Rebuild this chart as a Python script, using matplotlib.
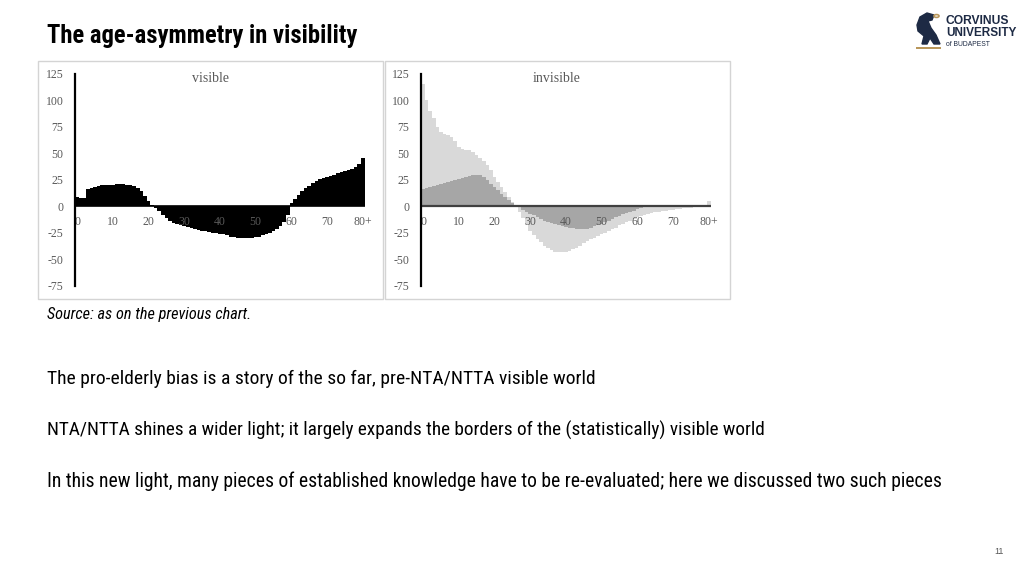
import matplotlib
matplotlib.use('Agg')
import matplotlib.pyplot as plt
import numpy as np
from matplotlib import font_manager
from matplotlib.patches import Rectangle, Polygon, Circle

# ---------------- data ----------------
ages = list(range(81))
x_tick_pos = [0, 10, 20, 30, 40, 50, 60, 70, 80]
x_tick_labels = ['0', '10', '20', '30', '40', '50', '60', '70', '80+']
y_ticks = [125, 100, 75, 50, 25, 0, -25, -50, -75]

visible = [8.5, 8, 7.5, 16.5, 17.5, 18.5, 19.5, 20, 20, 20,
           20.5, 21, 21, 21, 20.5, 20.5, 19.5, 17.5, 14, 9.5,
           5, 1.5, -1.5, -4.5, -8, -11, -13.5, -15.5, -17, -18,
           -19, -19.5, -20, -21, -22, -23, -23.5, -24, -25, -25.5,
           -26, -26.5, -27.5, -28.5, -29, -29.5, -30, -30, -30, -29.5,
           -29, -28.5, -27.5, -26.5, -25, -23.5, -21.5, -19, -15, -8,
           3, 7, 11, 14, 17, 19.5, 22, 24, 26, 27,
           28, 29, 30, 31, 32, 33, 34, 35.5, 37, 40,
           46]

invisible_total = [115, 100, 90, 83, 75, 70, 68, 67, 65, 62,
                   56, 54, 53, 53, 51, 48, 46, 43, 39, 34,
                   28, 23, 18, 13.5, 9, 4, 0.5, -5, -11, -17,
                   -23, -27, -31, -34, -37, -39.5, -41.5, -43, -43.5, -43.5,
                   -43, -42, -40.5, -39, -37, -35, -33, -31, -29.5, -28,
                   -26.5, -25, -23, -21.5, -20, -18, -16.5, -15, -13.5, -12,
                   -10.5, -9, -8, -7, -6.3, -5.7, -5.2, -4.7, -4.3, -3.9,
                   -3.5, -3, -2.5, -2, -1.6, -1.2, -0.8, -0.5, -0.2, 0.5,
                   5]

invisible_part = [16.7, 17.5, 18.3, 19, 20, 21, 22, 23, 24, 25,
                  26, 27, 28, 29, 29.5, 30, 29.5, 27.5, 24.5, 21.4,
                  18, 15, 12, 9, 5.7, 3, 1, -1, -3.5, -5.5,
                  -7, -8.5, -10, -12, -13.5, -15, -16, -17, -18, -19,
                  -19.5, -20, -20.5, -21, -21.4, -21.4, -21, -20, -19, -17.5,
                  -16.5, -15, -13.5, -12, -10.5, -9, -7.5, -6, -5, -4,
                  -3, -2, -1, 0, 0.8, 1.3, 1.5, 1.6, 1.6, 1.6,
                  1.5, 1.3, 1, 0.6, 0.3, 0.1, 0, 0, 0, 0,
                  0]

title = 'The age-asymmetry in visibility'
source = 'Source: as on the previous chart.'
body_lines = [
    'The pro-elderly bias is a story of the so far, pre-NTA/NTTA visible world',
    'NTA/NTTA shines a wider light; it largely expands the borders of the (statistically) visible world',
    'In this new light, many pieces of established knowledge have to be re-evaluated; here we discussed two such pieces',
]

# ---------------- figure ----------------
W, H = 1024, 576
fig = plt.figure(figsize=(W / 100, H / 100), dpi=100)
fig.patch.set_facecolor('white')

names = {f.name for f in font_manager.fontManager.ttflist}
sans = 'Liberation Sans'
for cand in ['Liberation Sans Narrow', 'Arial Narrow', 'Roboto Condensed',
             'Open Sans Condensed', 'Noto Sans Condensed']:
    if cand in names:
        sans = cand
        break
serif = 'Liberation Serif'
GRAY = '#595959'


def fx(px):
    return px / W


def fy(py):
    return 1 - py / H


renderer = fig.canvas.get_renderer()


def fit_text(x, y, s, width, size=12, family=None, ha='left', **kw):
    t = fig.text(fx(x), fy(y), s, fontsize=size, va='center', ha=ha,
                 family=family or sans, **kw)
    w = t.get_window_extent(renderer).width
    t.set_fontsize(size * width / w)
    return t


# chart boxes
for x0, x1 in [(38, 383), (385, 730)]:
    fig.add_artist(Rectangle((fx(x0), fy(299)), (x1 - x0) / W, (299 - 61) / H,
                             transform=fig.transFigure, fill=False,
                             edgecolor='#d4d4d4', lw=1))


def make_ax(left_px):
    ax = fig.add_axes([fx(left_px), fy(285.8), 289.2 / W, 212 / H])
    ax.set_xlim(-0.5, 80.5)
    ax.set_ylim(-75, 125)
    ax.patch.set_alpha(0)
    for s in ['top', 'right', 'bottom']:
        ax.spines[s].set_visible(False)
    ax.spines['left'].set_linewidth(1.6)
    ax.spines['left'].set_color('black')
    ax.spines['left'].set_zorder(6)
    ax.set_yticks(y_ticks)
    ax.set_yticklabels([str(v) for v in y_ticks])
    ax.tick_params(axis='y', length=0, pad=8.5, labelsize=8.5, labelcolor=GRAY)
    for lab in ax.get_yticklabels():
        lab.set_family(serif)
    ax.set_xticks([])
    for p, l in zip(x_tick_pos, x_tick_labels):
        ax.annotate(l, xy=(p, 0), xytext=(0, -16), textcoords='offset pixels',
                    ha='center', va='center', fontsize=8.5, color=GRAY,
                    family=serif, zorder=4)
    return ax


edges = np.arange(len(ages) + 1) - 0.5

ax1 = make_ax(75.3)
ax1.stairs(visible, edges, baseline=0, fill=True, color='black', zorder=2)
ax1.axhline(0, color='black', lw=1.2, zorder=3)

ax2 = make_ax(421.3)
ax2.stairs(invisible_total, edges, baseline=0, fill=True, color='#d9d9d9', zorder=2)
ax2.stairs(invisible_part, edges, baseline=0, fill=True, color='#a6a6a6', zorder=2.5)
ax2.axhline(0, color='#404040', lw=1.6, zorder=3)

fig.text(fx(211), fy(79), 'visible', ha='center', va='center', family=serif,
         fontsize=10, color=GRAY)
fig.text(fx(557), fy(79), 'invisible', ha='center', va='center', family=serif,
         fontsize=10, color=GRAY)

# slide texts
fit_text(47, 36, title, 310, size=16, fontweight='bold', color='black')
fit_text(47, 315, source, 204, size=10, fontstyle='italic', color='black')
for (y, w), line in zip([(379, 549), (430, 725), (481, 902)], body_lines):
    fit_text(47, y, line, w, size=14, color='black')
fig.text(fx(999), fy(551), '11', ha='center', va='center', fontsize=6.5,
         color=GRAY, family='Liberation Sans')

# logo
NAVY = '#1d2a44'
GOLD = '#b9975b'
bird = [(917, 25), (920, 17), (927, 13), (934, 15), (932, 20), (928, 21),
        (931, 28), (936, 35), (940, 44), (934, 44), (930, 38), (927, 44),
        (922, 44), (924, 36), (918, 31)]
fig.add_artist(Polygon([(fx(a), fy(b)) for a, b in bird], closed=True,
                       transform=fig.transFigure, facecolor=NAVY, edgecolor=NAVY))
fig.add_artist(Circle((fx(936.5), fy(16)), 2.5 / W, transform=fig.transFigure,
                      facecolor='none', edgecolor=GOLD, lw=1.2))
fig.add_artist(Rectangle((fx(916), fy(49)), 25 / W, 2 / H, transform=fig.transFigure,
                         facecolor=GOLD, edgecolor='none'))
fit_text(946, 21, 'CORVINUS', 64, size=9, family='Liberation Sans',
         fontweight='bold', color=NAVY)
fit_text(946, 33, 'UNIVERSITY', 71, size=9, family='Liberation Sans',
         fontweight='bold', color=NAVY)
fit_text(946, 45, 'of BUDAPEST', 44, size=6, family='Liberation Sans',
         color=NAVY)

fig.savefig('out.png', dpi=100)
